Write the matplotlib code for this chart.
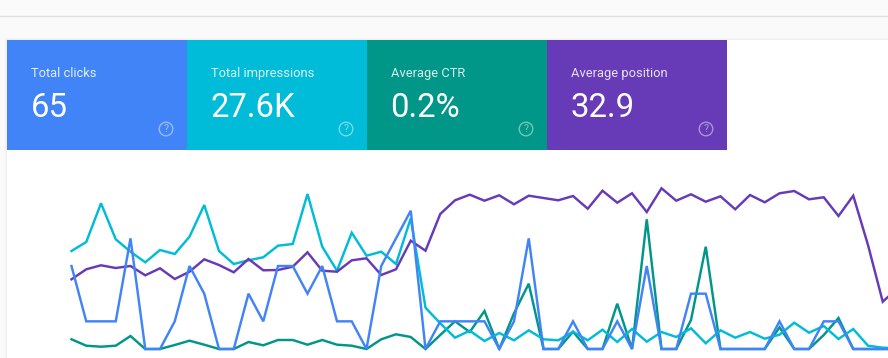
#!/usr/bin/env python

import matplotlib
matplotlib.use("Agg")
import matplotlib.pyplot as plt
from matplotlib.patches import Rectangle, Circle

W = 888
H = 358

# metric cards
labels = ["Total clicks", "Total impressions", "Average CTR", "Average position"]
totals = ["65", "27.6K", "0.2%", "32.9"]
colors = ["#4184f8", "#00bcd9", "#009688", "#673ab7"]

# clicks are real counts, the rest have no visible axis so they are read as
# height above the baseline
clicks = [3, 1, 1, 1, 4, 0, 0, 1, 3, 2, 0, 0, 2, 1, 3, 3, 2, 3, 1, 1,
          0, 3, 4, 5, 0, 1, 1, 1, 1, 0, 1, 4, 0, 0, 1, 0, 0, 1, 0, 3,
          0, 0, 2, 2, 0, 0, 0, 0, 1, 0, 0, 1, 1, 0, 0, 0, 0]
impressions = [98, 107, 145.7, 109.7, 97.3, 86.7, 99, 95, 112.3, 144, 98, 85, 88.7, 91.7, 103.3,
               105, 155, 102.3, 78.3, 116.3, 93.3, 97.3, 85, 130.7, 41.3, 25.7, 11.3, 18.3, 8, 16,
               8.7, 18.7, 9.7, 8.7, 17.3, 8.7, 19.3, 7, 20, 7.3, 17, 12, 20.7, 5.7, 18.7,
               11.3, 17, 10.3, 14.3, 26.3, 16.3, 23, 10, 20, 3.3, 1.3, 0.7]
ctr = [9.7, 3.3, 2.3, 3.3, 13, 0, 0, 4, 8.3, 4.3, 0, 0, 7, 3.7, 9,
       9, 4.3, 9, 4.3, 3.3, 0, 9.7, 14.7, 12, 0, 14, 27.7, 17, 38, 0,
       35.7, 65.3, 0, 0, 17.3, 0, 0, 45.3, 0, 129.7, 0, 0, 29, 102.3, 0,
       0, 0, 0, 21.7, 0, 0, 14, 31, 0, 0, 0, 0]
position = [69.7, 79.7, 83.7, 81, 83, 73.7, 80.7, 70, 77.3, 89.7, 84, 76.7, 90, 78.7, 79,
            82.3, 96.7, 78.3, 77.3, 88.7, 90.7, 74, 79.7, 108.3, 98.3, 135, 148.7, 154.3, 148.3, 153.7,
            144.7, 153.3, 151, 148.7, 153, 140.3, 158.3, 146.3, 155.7, 137, 160.7, 148.3, 154.7, 147.3, 152.7,
            139.7, 154, 146.7, 155.7, 158, 149.7, 151.7, 133, 153.3, 104, 47.3, 60.7]

days = list(range(len(clicks)))

fig = plt.figure(figsize=(W / 100, H / 100), dpi=100, facecolor="#fafafa")
plt.rcParams["font.family"] = "Roboto"

# page layer in pixel coordinates, y going down
bg = fig.add_axes([0, 0, 1, 1])
bg.set_xlim(0, W)
bg.set_ylim(H, 0)
bg.axis("off")
bg.plot([0, W], [15.5, 15.5], color="#e2e2e2", lw=1)
for i, a in enumerate([0.008, 0.012, 0.02]):
    pad = 3 - i
    bg.add_patch(Rectangle((7 - pad, 40 - pad), W, H, fc="black", ec="none", alpha=a))
bg.add_patch(Rectangle((7, 40), W, H, fc="white", ec="none"))

for i in range(4):
    x = 7 + 180 * i
    bg.add_patch(Rectangle((x, 40), 180, 110, fc=colors[i], ec="none"))
    bg.text(x + 24, 73.6, labels[i], color="white", alpha=0.85, fontsize=9.3,
            va="center", ha="left")
    bg.text(x + 23.5, 107.6, totals[i], color="white", fontsize=23.7,
            va="center", ha="left")
    bg.add_patch(Circle((x + 159, 129), 6.8, fc="none", ec="white", lw=1, alpha=0.45))
    bg.text(x + 159, 129.3, "?", color="white", alpha=0.5, fontsize=7.5, va="center", ha="center")

# chart, one day is 14.75 px, baseline at y=349
ax = fig.add_axes([71.5 / W, (H - 349) / H, (W - 71.5) / W, 160 / H])
ax.patch.set_alpha(0)
ax.set_xlim(0, (W - 71.5) / 14.75)
ax.set_ylim(0, 160)
ax.axis("off")
ax.plot(days, ctr, color=colors[2], lw=1.75, clip_on=False, solid_joinstyle="miter")
ax.plot(days, impressions, color=colors[1], lw=1.75, clip_on=False, solid_joinstyle="miter")
ax.plot(days, position, color=colors[3], lw=1.75, clip_on=False, solid_joinstyle="miter")

ax2 = ax.twinx()
ax2.patch.set_alpha(0)
ax2.set_ylim(0, 160 / 27.66)
ax2.axis("off")
ax2.plot(days, clicks, color=colors[0], lw=1.75, clip_on=False, solid_joinstyle="miter")

fig.savefig("out.png", dpi=100, facecolor=fig.get_facecolor())
